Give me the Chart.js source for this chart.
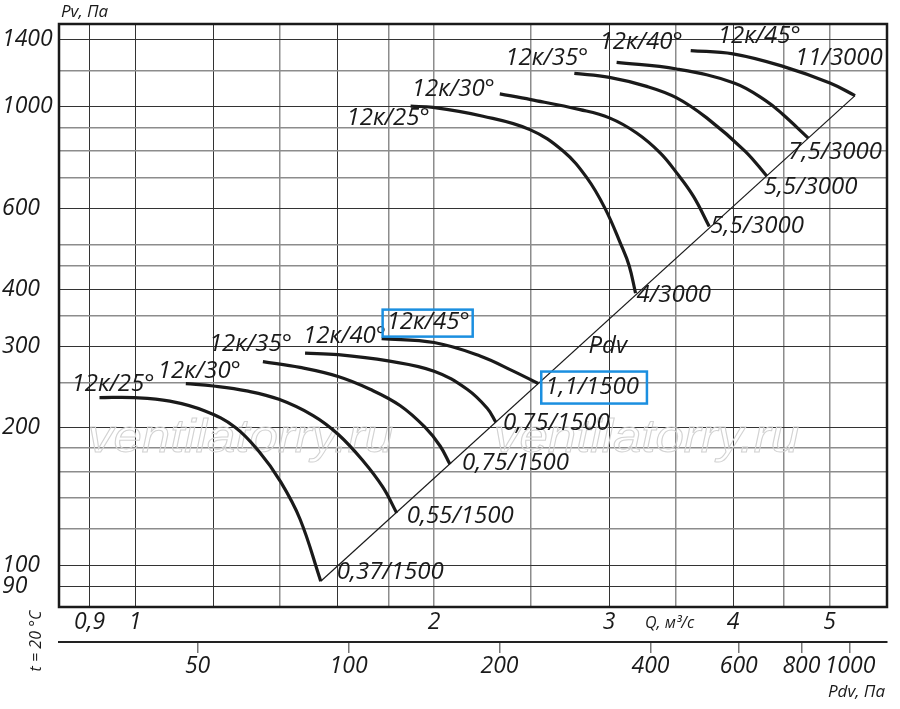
<!DOCTYPE html>
<html>
<head>
<meta charset="utf-8">
<script src="https://cdn.jsdelivr.net/npm/chart.js@4.4.1/dist/chart.umd.min.js"></script>
<style>
html, body { margin: 0; padding: 0; background: #fff; }
#fanChart { display: block; }
</style>
</head>
<body>
<canvas id="fanChart" width="900" height="709"></canvas>
<script>
// grid / tick values
const pvGrid = [90, 100, 120, 140, 160, 180, 200, 250, 300, 350, 400, 450, 500, 600, 700, 800, 900, 1000, 1200, 1400];
const pvLabels = [90, 100, 200, 300, 400, 600, 1000, 1400];
const qGrid = [0.9, 1, 1.2, 1.4, 1.6, 1.8, 2, 2.5, 3, 3.5, 4, 4.5, 5];
const qLabels = [0.9, 1, 2, 3, 4, 5];
const pdvTicks = [50, 100, 200, 400, 600, 800, 1000];

// blade settings and motors (kW / rpm)
const bladeNames = ['12к/25°', '12к/30°', '12к/35°', '12к/40°', '12к/45°'];
const motors1500 = ['0,37/1500', '0,55/1500', '0,75/1500', '0,75/1500', '1,1/1500'];
const motors3000 = ['4/3000', '5,5/3000', '5,5/3000', '7,5/3000', '11/3000'];

// Q, m3/s  and  Pv, Pa - 1500 rpm
const q1500_25 = [0.921, 0.998, 1.084, 1.176, 1.261, 1.336, 1.399, 1.466, 1.538];
const p1500_25 = [232, 232, 228, 217, 200, 176, 153, 126, 92.3];
const q1500_30 = [1.125, 1.199, 1.295, 1.396, 1.511, 1.601, 1.696, 1.776, 1.834];
const p1500_30 = [249, 246, 240, 230, 212, 193, 169, 148, 130];
const q1500_35 = [1.345, 1.466, 1.601, 1.724, 1.848, 1.958, 2.028, 2.075];
const p1500_35 = [278, 270, 258, 242, 223, 200, 182, 166];
const q1500_40 = [1.483, 1.601, 1.798, 2.0, 2.159, 2.262, 2.308];
const p1500_40 = [290, 288, 279, 265, 242, 220, 205];
const q1500_45 = [1.771, 2.0, 2.225, 2.403, 2.546];
const p1500_45 = [312, 306, 286, 265, 249];

// 3000 rpm
const q3000_25 = [1.894, 1.995, 2.24, 2.497, 2.697, 2.849, 2.972, 3.084, 3.143, 3.19];
const p3000_25 = [1002, 996, 953, 891, 800, 700, 600, 500, 450, 392];
const q3000_30 = [2.329, 2.502, 2.805, 3.002, 3.198, 3.377, 3.509, 3.647, 3.784];
const p3000_30 = [1066, 1036, 985, 945, 876, 793, 717, 638, 548];
const q3000_35 = [2.768, 3.002, 3.273, 3.509, 3.762, 4.111, 4.323];
const p3000_35 = [1182, 1158, 1107, 1045, 945, 800, 706];
const q3000_40 = [3.053, 3.509, 4.008, 4.323, 4.489, 4.76];
const p3000_40 = [1249, 1208, 1126, 1027, 961, 854];
const q3000_45 = [3.625, 3.998, 4.489, 5.005, 5.305];
const p3000_45 = [1325, 1303, 1224, 1126, 1057];

// Pdv line (ends of the curves)
const pdvLineQ = [1.538, 5.305];
const pdvLineP = [92.3, 1057];

const qSets1500 = [q1500_25, q1500_30, q1500_35, q1500_40, q1500_45];
const pSets1500 = [p1500_25, p1500_30, p1500_35, p1500_40, p1500_45];
const qSets3000 = [q3000_25, q3000_30, q3000_35, q3000_40, q3000_45];
const pSets3000 = [p3000_25, p3000_30, p3000_35, p3000_40, p3000_45];

// text offsets (px) from first / last point of each curve: [dx to text left, dy to text middle]
const startOff1500 = [[-28, -13], [-28, -12], [-54, -17], [-2, -17], [5, -16]];
const endOff1500 = [[16, -9], [10, 3], [12, -1], [7, 1], [7, 4]];
const startOff3000 = [[-64, 12], [-88, -5], [-69, -15], [-17, -20], [27, -14]];
const endOff3000 = [[1, 2], [1, 0], [-3, 11], [-20, 14], [-60, -37]];

const INK = '#1a1a1a';
const FAM = '"Open Sans", "Liberation Sans", sans-serif';

function pts(q, p) {
  return q.map((v, i) => ({ x: v, y: p[i] }));
}

const datasets = [];
for (let i = 0; i < 5; i++) {
  datasets.push({ label: bladeNames[i] + ' 1500', data: pts(qSets1500[i], pSets1500[i]) });
  datasets.push({ label: bladeNames[i] + ' 3000', data: pts(qSets3000[i], pSets3000[i]) });
}
datasets.forEach(d => {
  d.borderColor = INK;
  d.borderWidth = 3.2;
  d.pointRadius = 0;
  d.fill = false;
  d.tension = 0.4;
});
datasets.push({
  label: 'Pdv',
  data: pts(pdvLineQ, pdvLineP),
  borderColor: INK,
  borderWidth: 1.2,
  pointRadius: 0,
  fill: false
});

function fmt(v) {
  return String(v).replace('.', ',');
}

const boxes = {};

const annotate = {
  id: 'annotate',
  beforeDatasetsDraw(chart) {
    const { ctx, chartArea: a } = chart;
    // watermark
    ctx.save();
    ctx.font = 'italic 46px "Liberation Sans", sans-serif';
    ctx.strokeStyle = '#d2d2d2';
    ctx.lineWidth = 1;
    ctx.textBaseline = 'alphabetic';
    const wm = 'ventilatorry.ru';
    const sx = 305 / ctx.measureText(wm).width;
    [[88, 452], [494, 452]].forEach(([x, y]) => {
      ctx.save();
      ctx.translate(x, y);
      ctx.scale(sx, 1);
      ctx.strokeText(wm, 0, 0);
      ctx.restore();
    });
    ctx.restore();
    // frame
    ctx.save();
    ctx.strokeStyle = INK;
    ctx.lineWidth = 2.5;
    ctx.strokeRect(a.left, a.top, a.right - a.left, a.bottom - a.top);
    ctx.restore();
  },
  afterDatasetsDraw(chart) {
    const { ctx } = chart;
    const xs = chart.scales.x, ys = chart.scales.y;
    ctx.save();
    ctx.fillStyle = INK;
    ctx.font = 'italic 24px ' + FAM;
    ctx.textBaseline = 'middle';
    ctx.textAlign = 'left';
    const put = (txt, q, p, off, key) => {
      const x = xs.getPixelForValue(q) + off[0];
      const y = ys.getPixelForValue(p) + off[1];
      ctx.fillText(txt, x, y);
      if (key) boxes[key] = { x, y, w: ctx.measureText(txt).width };
    };
    for (let i = 0; i < 5; i++) {
      const q1 = qSets1500[i], p1 = pSets1500[i];
      const q3 = qSets3000[i], p3 = pSets3000[i];
      put(bladeNames[i], q1[0], p1[0], startOff1500[i], i === 4 ? 'blade45' : null);
      put(motors1500[i], q1[q1.length - 1], p1[p1.length - 1], endOff1500[i], i === 4 ? 'motor11' : null);
      put(bladeNames[i], q3[0], p3[0], startOff3000[i]);
      put(motors3000[i], q3[q3.length - 1], p3[p3.length - 1], endOff3000[i]);
    }
    put('Pdv', 2.86, 301, [0, 0]);
    ctx.restore();
  },
  afterDraw(chart) {
    const { ctx } = chart;
    ctx.save();
    ctx.fillStyle = INK;
    ctx.textBaseline = 'middle';
    ctx.font = 'italic 17px ' + FAM;
    ctx.textAlign = 'left';
    ctx.fillText('Pv, Па', 61, 12);
    ctx.font = 'italic 16px ' + FAM;
    ctx.fillText('Q, м³/с', 645, 623);
    ctx.font = 'italic 17px ' + FAM;
    ctx.textAlign = 'right';
    ctx.fillText('Pdv, Па', 885, 692);
    ctx.save();
    ctx.translate(36, 641);
    ctx.rotate(-Math.PI / 2);
    ctx.textAlign = 'center';
    ctx.font = 'italic 16px ' + FAM;
    ctx.fillText('t = 20 °C', 0, 0);
    ctx.restore();
    // highlight boxes
    ctx.strokeStyle = '#1b8fe0';
    ctx.lineWidth = 2.5;
    const b1 = boxes.blade45, b2 = boxes.motor11;
    if (b1) ctx.strokeRect(b1.x - 4, b1.y - 13, b1.w + 7, 27);
    if (b2) ctx.strokeRect(b2.x - 4, b2.y - 16, b2.w + 12, 32);
    ctx.restore();
  }
};

const tickFont = { family: FAM, style: 'italic', size: 23 };

new Chart(document.getElementById('fanChart'), {
  type: 'line',
  data: { datasets },
  plugins: [annotate],
  options: {
    responsive: false,
    animation: false,
    devicePixelRatio: 1,
    layout: { padding: { left: 2, top: 24, right: 13, bottom: 0 } },
    plugins: { legend: { display: false }, tooltip: { enabled: false } },
    scales: {
      x: {
        type: 'logarithmic',
        position: 'bottom',
        min: 0.8385,
        max: 5.713,
        afterBuildTicks: s => { s.ticks = qGrid.map(v => ({ value: v })); },
        afterFit: s => { s.height = 35; },
        border: { display: false },
        grid: {
          drawTicks: false,
          color: c => ([0.9, 1, 1.2, 1.6, 3, 4].includes(c.tick.value) ? '#333' : '#8c8c8c'),
          lineWidth: c => ([0.9, 1, 1.2, 1.6, 3, 4].includes(c.tick.value) ? 1 : 1.5)
        },
        ticks: {
          autoSkip: false,
          maxRotation: 0,
          minRotation: 0,
          padding: 2,
          color: INK,
          font: tickFont,
          callback: v => (qLabels.includes(v) ? fmt(v) : '')
        }
      },
      pdv: {
        type: 'logarithmic',
        position: 'bottom',
        weight: 1,
        min: 26.46,
        max: 1185,
        afterBuildTicks: s => { s.ticks = pdvTicks.map(v => ({ value: v })); },
        afterFit: s => { s.height = 67; },
        border: { display: true, color: '#222', width: 2 },
        grid: { drawOnChartArea: false, drawTicks: true, tickLength: 11, color: '#777', lineWidth: 1.5 },
        ticks: {
          autoSkip: false,
          maxRotation: 0,
          minRotation: 0,
          padding: 0,
          color: INK,
          font: tickFont,
          callback: v => String(v)
        }
      },
      y: {
        type: 'logarithmic',
        position: 'left',
        min: 81.1,
        max: 1514,
        afterBuildTicks: s => { s.ticks = pvGrid.map(v => ({ value: v })); },
        afterFit: s => { s.width = 57; },
        border: { display: false },
        grid: {
          drawTicks: false,
          color: c => (pvLabels.includes(c.tick.value) ? '#333' : '#8c8c8c'),
          lineWidth: c => (pvLabels.includes(c.tick.value) ? 1 : 1.5)
        },
        ticks: {
          autoSkip: false,
          crossAlign: 'far',
          color: INK,
          font: tickFont,
          callback: v => (pvLabels.includes(v) ? String(v) : '')
        }
      }
    }
  }
});
</script>
</body>
</html>
